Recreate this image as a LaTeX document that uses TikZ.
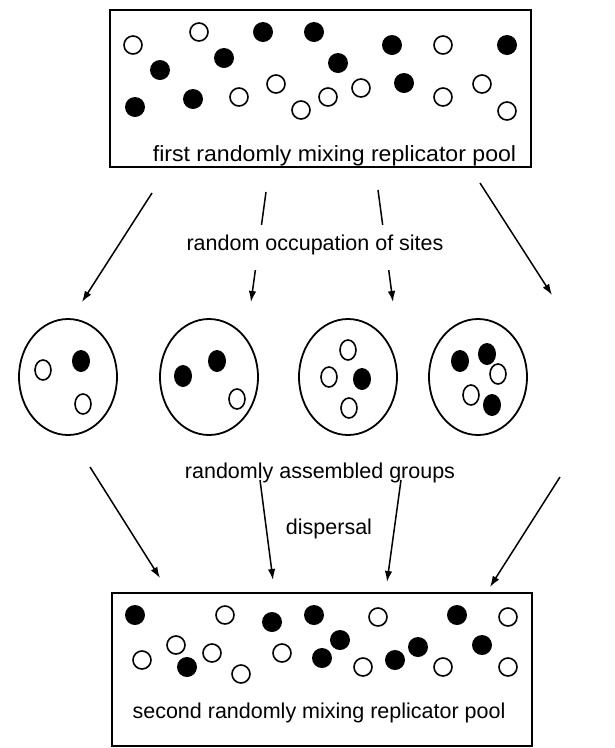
\documentclass[tikz,border=0pt]{standalone}
\usepackage{fontspec}
\setmainfont{Liberation Sans}
\usetikzlibrary{arrows.meta,shapes.geometric}
\begin{document}
\begin{tikzpicture}[x=1pt,y=-1pt,
  box/.style={draw, line width=1.9pt, rectangle, inner sep=0pt},
  grp/.style={draw, line width=1.8pt, ellipse, inner sep=0pt, minimum width=98pt, minimum height=116pt},
  wc/.style={draw, line width=1.6pt, fill=white},
  bc/.style={fill=black},
  arr/.style={line width=1.5pt, -{Latex[length=11pt,width=7.5pt]}},
  lbl/.style={font=\fontsize{21.5}{24}\selectfont, inner sep=0pt, anchor=base},
]
\useasboundingbox (0,0) rectangle (614,748);
\fill[white] (0,0) rectangle (614,748);

% pools
\node[box, minimum width=421pt, minimum height=157pt] (top) at (320.5,88.5) {};
\node[box, minimum width=420pt, minimum height=153pt] (bot) at (322,669.5) {};

% groups
\node[grp] (g1) at (68,377) {};
\node[grp] (g2) at (209,377) {};
\node[grp] (g3) at (348,377) {};
\node[grp] (g4) at (478,377) {};

% replicators in the first pool
\foreach \p in {(133,45),(199,32),(443,45),(239,97),(276,84),(301,110),(328,97),(361,88),(443,97),(482,84),(507,111)}
  \draw[wc] \p circle[radius=9pt];
\foreach \p in {(263,32),(314,32),(392,45),(507,45),(160,70),(224,58),(338,63),(135,107),(193,99),(404,83)}
  \fill[bc] \p circle[radius=10pt];

% replicators in the second pool
\foreach \p in {(225,615),(378,617),(508,617),(176,645),(142,660),(212,653),(241,674),(282,653),(363,667),(443,667),(508,667)}
  \draw[wc] \p circle[radius=9pt];
\foreach \p in {(135,615),(272,622),(314,615),(457,615),(187,667),(340,640),(322,658),(395,660),(418,647),(482,645)}
  \fill[bc] \p circle[radius=10pt];

% replicators in the groups
\foreach \p in {(43,370),(83,404),(237,399),(348,350),(329,377),(349,408),(498,374),(471,395)}
  \draw[wc] \p ellipse[x radius=8pt, y radius=10pt];
\foreach \p in {(81,361),(183,376),(217,361),(362,379),(460,361),(487,354),(492,405)}
  \fill[bc] \p ellipse[x radius=9pt, y radius=11pt];

% arrow end points
\coordinate (a1s) at (152,193); \coordinate (a1e) at (82,302);
\coordinate (a2s) at (266,192); \coordinate (a2e) at (251,302);
\coordinate (a3s) at (378,190); \coordinate (a3e) at (393,302);
\coordinate (a4s) at (480,183); \coordinate (a4e) at (552,295);
\coordinate (b1s) at (90,467);  \coordinate (b1e) at (160,578);
\coordinate (b2s) at (260,480); \coordinate (b2e) at (273,580);
\coordinate (b3s) at (401,480); \coordinate (b3e) at (387,582);
\coordinate (b4s) at (560,477); \coordinate (b4e) at (490,587);

\foreach \a in {a1,a2,a3,a4,b1,b2,b3,b4}
  \draw[arr] (\a s) -- (\a e);

% labels
\node[lbl] (t1) at (334.5,161) {\scalebox{1.05}[1]{\fontsize{22}{24}\selectfont first randomly mixing replicator pool}};
\node[lbl, fill=white, inner xsep=4pt, text height=25pt, text depth=20pt] (t2) at (315,250) {random occupation of sites};
\node[lbl] (t3) at (320,478) {randomly assembled groups};
\node[lbl] (t4) at (329,534) {dispersal};
\node[lbl] (t5) at (319,718) {second randomly mixing replicator pool};
\end{tikzpicture}
\end{document}
